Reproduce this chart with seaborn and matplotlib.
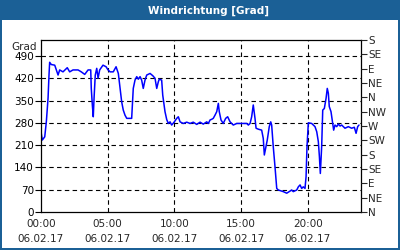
import matplotlib
matplotlib.use("Agg")
import matplotlib.pyplot as plt
import seaborn as sns
import numpy as np
import pandas as pd
from matplotlib.patches import Rectangle

hours = [0.0, 0.10, 0.28, 0.40, 0.53, 0.60, 0.65, 0.77, 1.03, 1.28, 1.40, 1.65, 1.97, 2.15,
         2.40, 2.78, 3.02, 3.28, 3.53, 3.73, 3.77, 3.85, 3.92, 3.98, 4.07, 4.18, 4.28, 4.40,
         4.65, 4.88, 5.03, 5.18, 5.42, 5.63, 5.80, 5.93, 6.05, 6.17, 6.30, 6.43, 6.80, 6.92,
         7.05, 7.18, 7.30, 7.43, 7.55, 7.67, 7.80, 7.93, 8.18, 8.38, 8.55, 8.68, 8.80, 8.87,
         9.05, 9.13, 9.30, 9.43, 9.55, 9.68, 9.80, 10.00, 10.18, 10.30, 10.43, 10.67, 10.93,
         11.18, 11.42, 11.68, 11.93, 12.17, 12.43, 12.55, 12.68, 12.80, 12.92, 13.05, 13.18,
         13.30, 13.37, 13.50, 13.67, 13.85, 14.00, 14.18, 14.42, 14.68, 15.05, 15.43, 15.55,
         15.68, 15.80, 15.92, 16.05, 16.13, 16.30, 16.55, 16.67, 16.75, 16.85, 16.97, 17.12,
         17.23, 17.30, 17.42, 17.55, 17.68, 17.80, 18.17, 18.43, 18.62, 18.80, 18.92, 19.18,
         19.30, 19.43, 19.55, 19.67, 19.80, 19.88, 19.95, 20.05, 20.30, 20.55, 20.68, 20.80,
         20.88, 20.95, 21.05, 21.13, 21.25, 21.38, 21.47, 21.55, 21.62, 21.75, 21.88, 21.95,
         22.05, 22.18, 22.30, 22.43, 22.55, 22.67, 22.80, 23.05, 23.30, 23.50, 23.63, 23.75,
         23.85]
degrees = [252, 226, 236, 283, 358, 430, 470, 463, 461, 430, 446, 440, 453, 440,
           446, 446, 440, 432, 446, 446, 388, 336, 299, 358, 430, 451, 420, 446,
           461, 456, 446, 440, 440, 456, 435, 388, 346, 320, 304, 294, 294, 388,
           414, 425, 417, 425, 414, 388, 414, 430, 435, 428, 420, 388, 409, 417,
           414, 367, 315, 290, 278, 283, 273, 283, 294, 299, 283, 278, 282,
           278, 282, 275, 282, 276, 283, 278, 289, 291, 294, 304, 315,
           341, 315, 289, 278, 294, 299, 283, 273, 278, 278, 278, 273,
           278, 299, 336, 294, 263, 260, 257, 231, 179, 200, 226, 268,
           283, 273, 205, 142, 74, 69, 64, 59, 64, 69, 64, 69,
           79, 85, 74, 79, 74, 111, 205, 280, 278, 268, 252, 221,
           174, 121, 205, 320, 325, 357, 388, 373, 331, 315, 278, 257,
           273, 268, 276, 270, 273, 268, 263, 268, 263, 266, 247, 268,
           273]

left_ticks = [0, 70, 140, 210, 280, 350, 420, 490]
dir_ticks = [0, 45, 90, 135, 180, 225, 270, 315, 360, 405, 450, 495, 540]
dir_labels = ["N", "NE", "E", "SE", "S", "SW", "W", "NW", "N", "NE", "E", "SE", "S"]
x_major = [0, 5, 10, 15, 20]
x_labels = ["00:00\n06.02.17", "05:00\n06.02.17", "10:00\n06.02.17",
            "15:00\n06.02.17", "20:00\n06.02.17"]
title = "Windrichtung [Grad]"
unit = "Grad"

sns.set_style("white")
plt.rcParams['font.family'] = ['DejaVu Sans']

BLUE = '#1b6096'
FS = 7.5
fig = plt.figure(figsize=(4, 2.5), dpi=100)
fig.patch.set_facecolor('white')
# frame
fig.add_artist(Rectangle((0, 1 - 20 / 250), 1, 20 / 250, transform=fig.transFigure,
                         facecolor=BLUE, edgecolor='none', zorder=0))
for (x0, y0, w, h) in [(0, 0, 2 / 400, 1), (1 - 2 / 400, 0, 2 / 400, 1), (0, 0, 1, 2 / 250)]:
    fig.add_artist(Rectangle((x0, y0), w, h, transform=fig.transFigure,
                             facecolor=BLUE, edgecolor='none', zorder=0))
fig.text(209 / 400, 1 - 10.5 / 250, title, color='white', fontsize=7.5,
         fontweight='bold', ha='center', va='center')

ax = fig.add_axes([41 / 400, 1 - 212 / 250, 320 / 400, 172 / 250])
ax.set_facecolor('white')
df = pd.DataFrame({"h": hours, "deg": degrees})
sns.lineplot(data=df, x="h", y="deg", ax=ax, color='#0000ff', lw=1.1)
ax.set_xlim(0, 24)
ax.set_ylim(0, 540)
ax.set_xlabel("")
ax.set_ylabel("")
for s in ax.spines.values():
    s.set_color('black')
    s.set_linewidth(0.9)
ax.set_yticks(left_ticks)
ax.set_yticklabels([str(t) for t in left_ticks], fontsize=FS)
ax.tick_params(axis='y', direction='out', length=4, width=0.8, pad=1, colors='black')
ax.set_xticks(x_major)
ax.set_xticklabels(x_labels, fontsize=FS, linespacing=1.6)
ax.set_xticks(np.arange(0, 25, 1), minor=True)
ax.tick_params(axis='x', which='both', direction='in', length=3, width=0.8, pad=5)
for t in left_ticks[1:]:
    ax.axhline(t, color='black', lw=0.8, ls=(0, (4, 3)), zorder=1)
for t in x_major[1:]:
    ax.axvline(t, color='black', lw=0.8, ls=(0, (4, 3)), zorder=1)
ax.text(-0.012, 1 - 7 / 172, unit, transform=ax.transAxes, ha='right', va='center', fontsize=FS)

ax2 = ax.twinx()
ax2.set_ylim(0, 540)
ax2.set_yticks(dir_ticks)
ax2.set_yticklabels(dir_labels, fontsize=FS)
ax2.tick_params(axis='y', direction='out', length=4, width=0.8, pad=1)
for s in ax2.spines.values():
    s.set_visible(False)

fig.savefig("out.png", dpi=100)
